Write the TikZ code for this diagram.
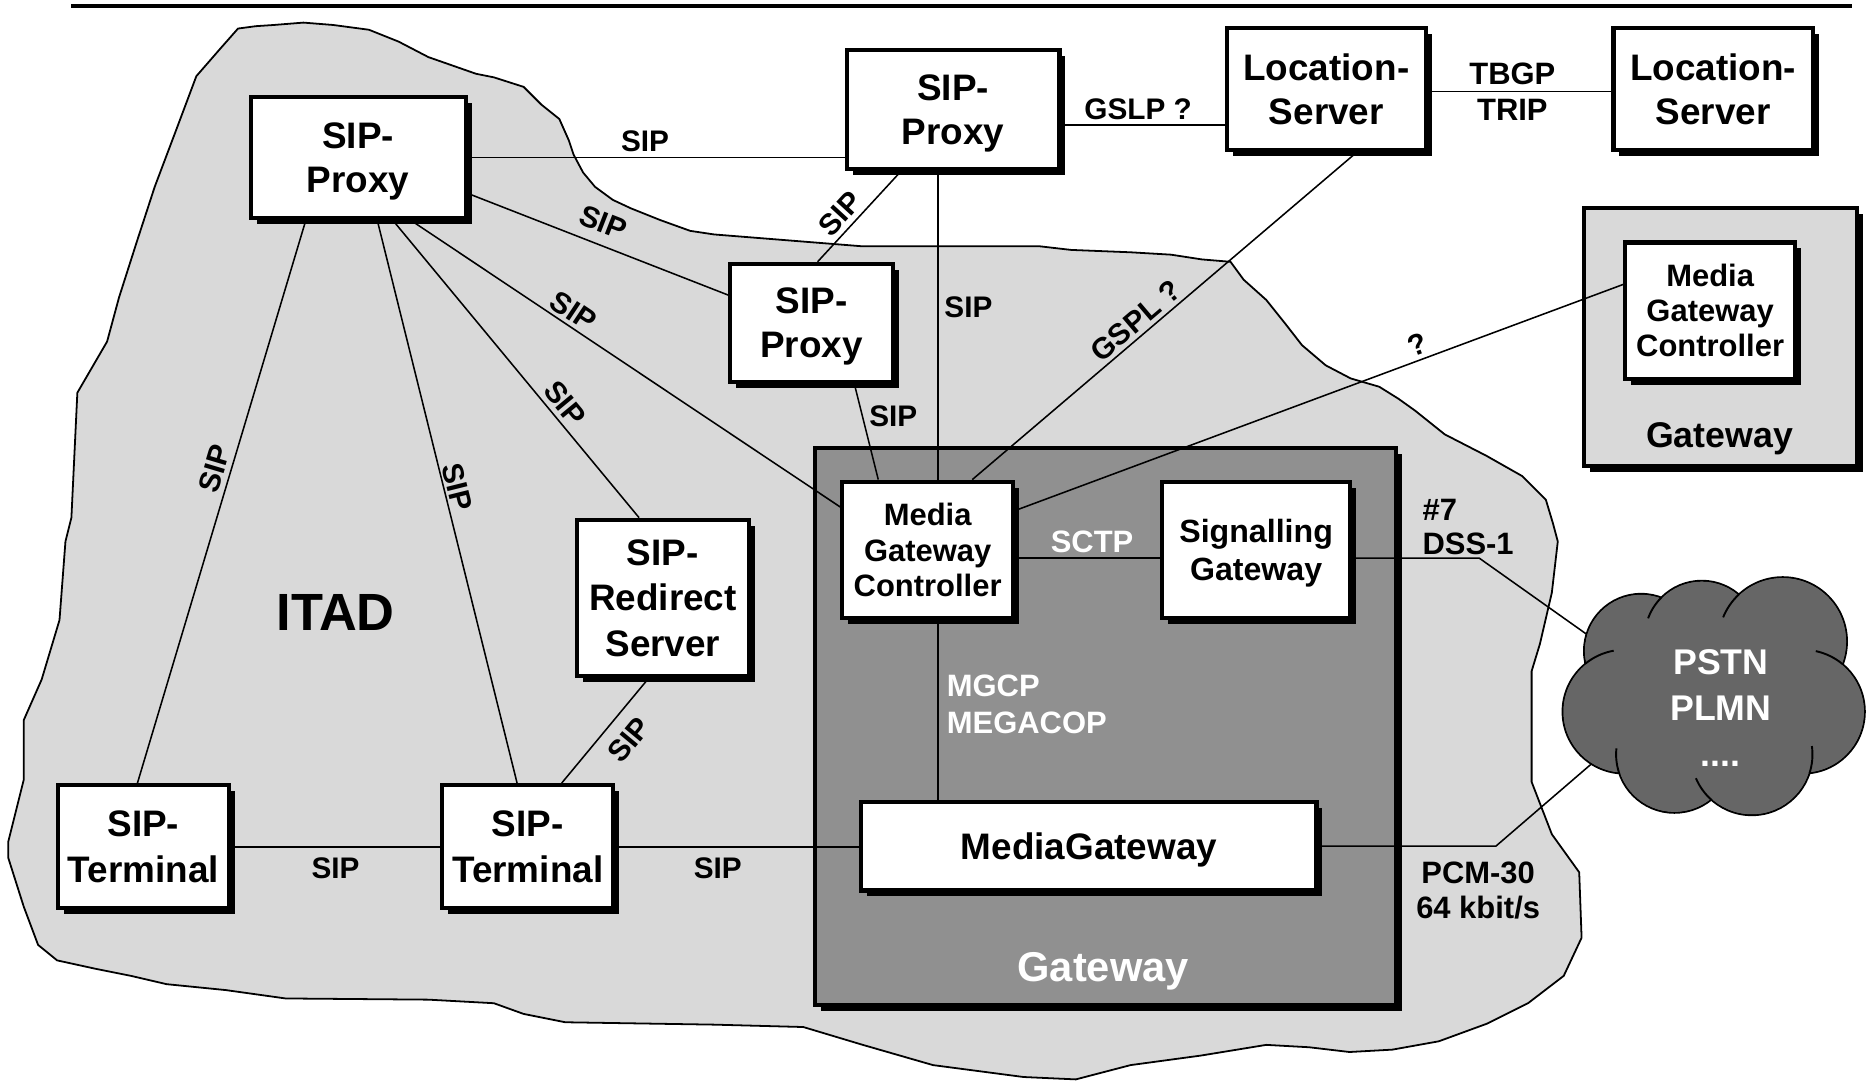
\documentclass[tikz,border=0pt]{standalone}
\usepackage{fontspec}
\setmainfont{Liberation Sans}
\usetikzlibrary{shadows,calc,shapes.geometric}
\definecolor{blobgray}{gray}{0.85}
\definecolor{gwgray}{gray}{0.565}
\definecolor{cloudgray}{gray}{0.4}
\begin{document}
\begin{tikzpicture}[x=1pt,y=-1pt,
  box/.style={draw, line width=3.5pt, fill=white, inner sep=0pt, align=center, text depth=0pt,
    font=\bfseries\fontsize{31}{37}\selectfont,
    drop shadow={shadow xshift=5pt, shadow yshift=-5pt, fill=black, opacity=1}},
  smallbox/.style={box, font=\bfseries\fontsize{26}{29.5}\selectfont},
  conn/.style={line width=1.3pt},
  lbl/.style={font=\bfseries\fontsize{25}{28}\selectfont, inner sep=2pt},
  lbltwo/.style={font=\bfseries\fontsize{26}{30}\selectfont, inner sep=2pt},
  wlbl/.style={font=\bfseries\fontsize{26}{31}\selectfont, inner sep=2pt, text=white},
  blob/.style={fill=blobgray, draw, line width=1.5pt, line join=round},
  cloudline/.style={line width=1.6pt},
]
\useasboundingbox (0,0) rectangle (1568,909);

% top rule
\draw[line width=4pt] (60,5) -- (1556,5);

% ITAD region
\draw[blob] (200,24) -- (215,22) -- (230,21) -- (255,19) -- (280,21) -- (310,25) -- (335,35)
 -- (360,48) -- (380,55) -- (400,62) -- (415,65) -- (440,73) -- (455,88) -- (470,100)
 -- (478,118) -- (482,130) -- (490,145) -- (500,157) -- (515,168) -- (530,175) -- (555,185)
 -- (580,194) -- (600,197) -- (650,201) -- (700,205) -- (725,207) -- (784,207) -- (874,207)
 -- (900,210) -- (950,212) -- (984,214) -- (1010,218) -- (1034,220) -- (1045,235) -- (1064,252)
 -- (1080,272) -- (1094,290) -- (1114,307) -- (1135,318) -- (1159,325) -- (1175,335) -- (1189,345)
 -- (1214,365) -- (1249,383) -- (1279,400) -- (1299,420) -- (1305,440) -- (1309,455) -- (1304,498)
 -- (1294,541) -- (1287,564) -- (1287,657) -- (1304,701) -- (1327,733) -- (1329,788) -- (1314,820)
 -- (1284,843) -- (1250,860) -- (1209,875) -- (1170,882) -- (1134,884) -- (1100,880) -- (1064,878)
 -- (1009,887) -- (950,895) -- (904,907) -- (860,905) -- (784,895) -- (725,878) -- (675,863)
 -- (600,861) -- (475,859) -- (440,852) -- (415,843) -- (360,840) -- (240,839) -- (190,832)
 -- (140,827) -- (110,820) -- (80,814) -- (48,807) -- (32,794) -- (20,762) -- (7,721) -- (7,707)
 -- (20,655) -- (20,605) -- (35,571) -- (50,521) -- (55,455) -- (60,435) -- (65,330) -- (90,287)
 -- (100,250) -- (115,203) -- (130,157) -- (150,104) -- (165,64) -- (185,41) -- cycle;

\node[font=\bfseries\fontsize{44}{50}\selectfont] (itad) at (282,515) {ITAD};

% gateways
\node[box, fill=gwgray, minimum width=488.5pt, minimum height=467.5pt] (GW) at (929,610.5) {};
\node[font=\bfseries\fontsize{35}{40}\selectfont, text=white, anchor=base] (gwtext) at (927,825) {Gateway};
\node[box, fill=blobgray, minimum width=229.5pt, minimum height=216.5pt] (GWR) at (1445.5,283) {};
\node[font=\bfseries\fontsize{30}{35}\selectfont, anchor=base] (gwrtext) at (1445,376) {Gateway};

% PSTN cloud
\node[ellipse, minimum width=250pt, minimum height=200pt, inner sep=0pt] (pstn) at (1440,585) {};
\foreach \cx/\cy/\r in {1379/547/48, 1430/536/48, 1498/539/54, 1515/598/52, 1472/634/51, 1407/634/49, 1365/598/52}
  \draw[cloudline, fill=cloudgray] (\cx,\cy) circle[radius=\r pt];
\foreach \cx/\cy/\r in {1379/547/48, 1430/536/48, 1498/539/54, 1515/598/52, 1472/634/51, 1407/634/49, 1365/598/52}
  \fill[cloudgray] (\cx,\cy) circle[radius=\r pt - 0.8pt];
\fill[cloudgray] (1440,590) circle[radius=60pt];
\draw[cloudline] (1430,536) ++(135:48pt) arc[start angle=135, end angle=160, radius=48pt];
\draw[cloudline] (1498,539) ++(133:54pt) arc[start angle=133, end angle=158, radius=54pt];
\draw[cloudline] (1365,598) ++(129:52pt) arc[start angle=129, end angle=100, radius=52pt];
\draw[cloudline] (1515,598) ++(50:52pt) arc[start angle=50, end angle=78, radius=52pt];
\draw[cloudline] (1407,634) ++(199:49pt) arc[start angle=199, end angle=174, radius=49pt];
\draw[cloudline] (1472,634) ++(228:51pt) arc[start angle=228, end angle=203, radius=51pt];
\draw[cloudline] (1472,634) ++(-18:51pt) arc[start angle=-18, end angle=8, radius=51pt];
\node[font=\bfseries\fontsize{30}{39}\selectfont, text=white, align=center] (pstntext) at (1446,595) {PSTN\\PLMN\\....};

% boxes
\node[box, minimum width=180.5pt, minimum height=101.5pt] (P1) at (301,132.5) {SIP-\\Proxy};
\node[box, minimum width=178.5pt, minimum height=100.5pt] (P2) at (801,92) {SIP-\\Proxy};
\node[box, minimum width=167.5pt, minimum height=102.5pt] (LS1) at (1114.5,75) {Location-\\Server};
\node[box, minimum width=167.5pt, minimum height=102.5pt] (LS2) at (1439.5,75) {Location-\\Server};
\node[smallbox, minimum width=142.5pt, minimum height=114.5pt] (MGC2) at (1437,261) {Media\\Gateway\\Controller};
\node[box, minimum width=136.5pt, minimum height=99.5pt] (P3) at (682,271.5) {SIP-\\Proxy};
\node[smallbox, minimum width=143.5pt, minimum height=114.5pt] (MGC1) at (779.5,462) {Media\\Gateway\\Controller};
\node[smallbox, font=\bfseries\fontsize{27}{32}\selectfont, minimum width=157.5pt, minimum height=114.5pt] (SG) at (1055.5,462) {Signalling\\Gateway};
\node[box, minimum width=382.5pt, minimum height=74.5pt] (MG) at (915,711) {MediaGateway};
\node[box, font=\bfseries\fontsize{31}{38}\selectfont, minimum width=144.5pt, minimum height=131.5pt] (RD) at (557,502.5) {SIP-\\Redirect\\Server};
\node[box, font=\bfseries\fontsize{31}{38}\selectfont, minimum width=143.5pt, minimum height=103.5pt] (T1) at (120.5,711.5) {SIP-\\Terminal};
\node[box, font=\bfseries\fontsize{31}{38}\selectfont, minimum width=143.5pt, minimum height=103.5pt] (T2) at (443.5,711.5) {SIP-\\Terminal};

% connectors
\draw[conn] (P1.east) -- (P1.east -| P2.west) node[lbl, pos=.47, above=2pt] (lbA) {SIP};
\draw[conn] ([yshift=-30pt]P1.east) -- ([yshift=23.5pt]P3.west) node[lbl, pos=.49, sloped, above=7pt] (lbB) {SIP};
\draw[conn] ([xshift=44pt]P1.south) -- ([yshift=36pt]MGC1.west) node[lbl, pos=.36, sloped, above=1pt] (lbC) {SIP};
\draw[conn] ([xshift=29pt]P1.south) -- ([xshift=-20pt]RD.north) node[lbl, pos=.65, sloped, above=2pt] (lbD) {SIP};
\draw[conn] ([xshift=-5pt]T1.north) -- ([xshift=-44pt]P1.south) node[lbl, pos=.55, sloped, above=2pt] (lbE) {SIP};
\draw[conn] ([xshift=16pt]P1.south) -- ([xshift=-9pt]T2.north) node[lbl, pos=.48, sloped, above=0pt] (lbF) {SIP};
\draw[conn] ([xshift=5pt]P3.north) -- ([xshift=-44pt]P2.south) node[lbl, pos=.41, sloped, above=2pt] (lbG) {SIP};
\draw[conn] ([xshift=-13pt]P2.south) -- ([xshift=8.5pt]MGC1.north) node[lbl, pos=.44, right=3pt] (lbH) {SIP};
\draw[conn] ([xshift=36pt]P3.south) -- ([xshift=-41.5pt]MGC1.north) node[lbl, pos=.34, right=3pt] (lbI) {SIP};
\draw[conn] ([yshift=-13pt]P2.east) -- ([yshift=-30pt]LS1.west) node[lbl, pos=.47, above=2pt] (lbJ) {GSLP ?};
\draw[conn] ([yshift=-2pt]LS1.east) -- ([yshift=-2pt]LS2.west) node[lbltwo, pos=.46, align=center] (lbK) {TBGP\\TRIP};
\draw[conn] ([xshift=37.5pt]MGC1.north) -- ([xshift=25.5pt]LS1.south) node[lbl, pos=.45, sloped, above=1pt] (lbL) {GSPL ?};
\draw[conn] ([yshift=33pt]MGC1.east) -- ([yshift=22pt]MGC2.west) node[lbl, pos=.67, sloped, above=2pt] (lbM) {?};
\draw[conn] ([yshift=-7pt]MGC1.east) -- ([yshift=-7pt]SG.west) node[wlbl, pos=.53, above=2pt] (lbN) {SCTP};
\coordinate (dss) at (1243,469);
\draw[conn] ([yshift=-7pt]SG.east) -- (dss) node[lbltwo, pos=.53, anchor=south west, align=left, font=\bfseries\fontsize{26}{29}\selectfont] (lbO) {\#7\\DSS-1} -- (pstn.154);
\coordinate (pcm) at (1257,711);
\draw[conn] (MG.east) -- (pcm) node[lbltwo, pos=.9, below=11pt, align=center, font=\bfseries\fontsize{26}{29}\selectfont] (lbP) {PCM-30\\64 kbit/s} -- (pstn.209);
\draw[conn] ([xshift=8.5pt]MGC1.south) -- ([xshift=-127pt]MG.north) node[wlbl, pos=.47, right=5pt, align=left] (lbQ) {MGCP\\MEGACOP};
\draw[conn] (T1.east) -- (T2.west) node[lbl, pos=.5, below=7pt] (lbR) {SIP};
\draw[conn] (T2.east) -- (T2.east -| MG.west) node[lbl, pos=.42, below=7pt] (lbS) {SIP};
\draw[conn] ([xshift=28.5pt]T2.north) -- ([xshift=-12pt]RD.south) node[lbl, pos=.56, sloped, below=9pt] (lbT) {SIP};
\end{tikzpicture}
\end{document}
